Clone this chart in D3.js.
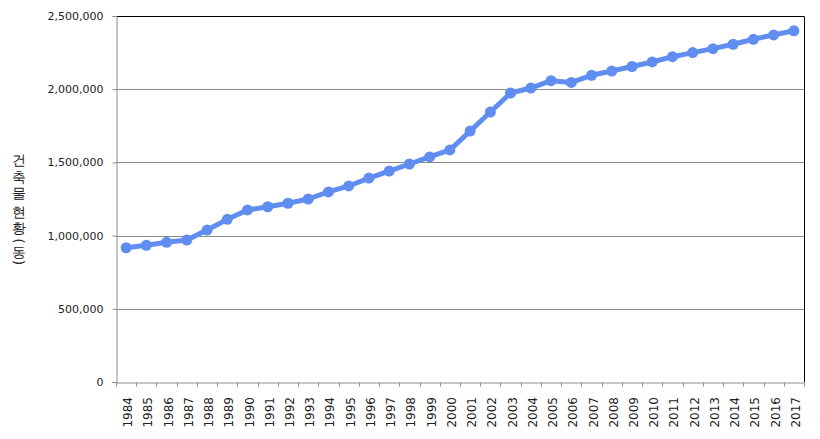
<!DOCTYPE html>
<html>
<head>
<meta charset="utf-8">
<script src="https://d3js.org/d3.v7.min.js"></script>
<style>
  body { margin: 0; background: #fff; }
  text { font-family: "DejaVu Sans", Verdana, sans-serif; }
</style>
</head>
<body>
<script>
  // data
  var years = ["1984","1985","1986","1987","1988","1989","1990","1991","1992","1993",
               "1994","1995","1996","1997","1998","1999","2000","2001","2002","2003",
               "2004","2005","2006","2007","2008","2009","2010","2011","2012","2013",
               "2014","2015","2016","2017"];
  var buildings = [917000, 934000, 954000, 970000, 1038000, 1111000, 1175000, 1197000, 1221000, 1250000,
                   1298000, 1339000, 1393000, 1441000, 1489000, 1537000, 1585000, 1714000, 1844000, 1974000,
                   2008000, 2058000, 2046000, 2095000, 2124000, 2155000, 2186000, 2222000, 2250000, 2277000,
                   2307000, 2341000, 2371000, 2399000];
  var yTicks = [0, 500000, 1000000, 1500000, 2000000, 2500000];
  var yTitle = "건축물 현황 (동)";

  (function () {
  var W = 820, H = 439;
  var pLeft = 116, pRight = 804, pTop = 16, pBottom = 382;

  var svg = d3.select("body").append("svg")
      .attr("width", W).attr("height", H);

  var x = d3.scaleBand().domain(years).range([pLeft, pRight]);
  var y = d3.scaleLinear().domain([0, 2500000]).range([pBottom, pTop]);

  // gridlines
  svg.append("g").selectAll("line")
    .data(yTicks.filter(function (d) { return d > 0 && d < 2500000; }))
    .enter().append("line")
      .attr("x1", pLeft).attr("x2", pRight)
      .attr("y1", function (d) { return Math.round(y(d)) + 0.5; })
      .attr("y2", function (d) { return Math.round(y(d)) + 0.5; })
      .attr("stroke", "#8c8c8c").attr("stroke-width", 1);

  // frame top / right
  svg.append("path")
    .attr("d", "M" + pLeft + "," + (pTop + 0.5) + "H" + (pRight + 0.5) + "V" + pBottom)
    .attr("fill", "none").attr("stroke", "#000").attr("stroke-width", 1);

  // y axis
  var yAxis = svg.append("g")
    .attr("transform", "translate(" + (pLeft + 0.5) + ",0)")
    .call(d3.axisLeft(y).tickValues(yTicks).tickSize(4).tickPadding(9)
      .tickFormat(d3.format(",")));
  yAxis.select(".domain").attr("stroke", "#8c8c8c");
  yAxis.selectAll(".tick line").attr("stroke", "#8c8c8c");
  yAxis.selectAll("text").attr("font-size", 11).attr("fill", "#222")
    .attr("font-family", "DejaVu Sans, Verdana, sans-serif");

  // x axis
  var xAxis = svg.append("g")
    .attr("transform", "translate(0," + (pBottom + 0.5) + ")")
    .call(d3.axisBottom(x).tickSize(0).tickPadding(0));
  xAxis.select(".domain").attr("stroke", "#8c8c8c");
  xAxis.selectAll(".tick text").remove();
  // boundary ticks
  xAxis.selectAll(".bt")
    .data(years.concat(["end"]))
    .enter().append("line")
      .attr("x1", function (d, i) { return Math.round(pLeft + i * x.step()) + 0.5; })
      .attr("x2", function (d, i) { return Math.round(pLeft + i * x.step()) + 0.5; })
      .attr("y1", 0).attr("y2", 4)
      .attr("stroke", "#8c8c8c");
  xAxis.selectAll(".lbl")
    .data(years)
    .enter().append("text")
      .attr("transform", function (d) {
        return "translate(" + (x(d) + x.bandwidth() / 2 + 6) + ",14.5) rotate(-90)";
      })
      .attr("text-anchor", "end")
      .attr("font-size", 12).attr("fill", "#222")
      .attr("font-family", "Liberation Sans, Arial, sans-serif")
      .text(function (d) { return d; });

  // y title: upright hangul stacked top to bottom, brackets turned
  var cursor = 152, glyphs = [];
  yTitle.split("").forEach(function (c) {
    var adv = c === " " ? 2 : (c === "(" || c === ")") ? 5 : 16.5;
    glyphs.push({ c: c, cy: cursor + adv / 2 });
    cursor += adv;
  });
  svg.append("g").selectAll("text")
    .data(glyphs.filter(function (g) { return g.c !== " "; }))
    .enter().append("text")
      .attr("transform", function (g) {
        var r = (g.c === "(" || g.c === ")") ? " rotate(90)" : "";
        return "translate(18.5," + g.cy + ")" + r;
      })
      .attr("text-anchor", "middle")
      .attr("dominant-baseline", "central")
      .attr("font-size", 14)
      .attr("fill", "#222")
      .attr("font-family", "Noto Sans CJK KR, sans-serif")
      .text(function (g) { return g.c; });

  // line
  var color = "#5f8ef0";
  var line = d3.line()
    .x(function (d, i) { return x(years[i]) + x.bandwidth() / 2; })
    .y(function (d) { return y(d); });

  svg.append("path")
    .datum(buildings)
    .attr("d", line)
    .attr("fill", "none")
    .attr("stroke", color)
    .attr("stroke-width", 5)
    .attr("stroke-linejoin", "round");

  svg.append("g").selectAll("circle")
    .data(buildings)
    .enter().append("circle")
      .attr("cx", function (d, i) { return x(years[i]) + x.bandwidth() / 2; })
      .attr("cy", function (d) { return y(d); })
      .attr("r", 5.5)
      .attr("fill", color);
  })();
</script>
</body>
</html>
